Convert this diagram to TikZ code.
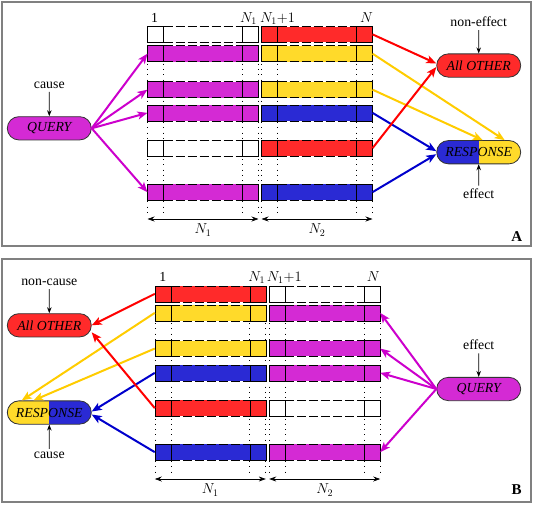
\documentclass[tikz,border=0pt]{standalone}
\usepackage{fontspec}
\setmainfont{Liberation Serif}
\usetikzlibrary{arrows.meta,shapes.misc}
\definecolor{magbar}{RGB}{212,42,212}
\definecolor{redbar}{RGB}{255,42,42}
\definecolor{yelbar}{RGB}{255,218,42}
\definecolor{blubar}{RGB}{42,42,212}
\definecolor{magarr}{RGB}{204,0,204}
\definecolor{redarr}{RGB}{255,0,0}
\definecolor{yelarr}{RGB}{255,204,0}
\definecolor{bluarr}{RGB}{0,0,204}
\newcommand{\cellstrip}[4]{%
  \node[stripbox,fill=#4] (#1) at (#2+55.3,#3+7.85) {};
  \draw[stripline] (#1.north west) rectangle ([xshift=16pt]#1.south west);
  \draw[stripline] ([xshift=-16pt]#1.north east) rectangle (#1.south east);
  \draw[stripline,dash pattern=on 9pt off 3pt] ([xshift=16pt]#1.north west) -- ([xshift=-16pt]#1.north east);
  \draw[stripline,dash pattern=on 9pt off 3pt] ([xshift=16pt]#1.south west) -- ([xshift=-16pt]#1.south east);
}
\begin{document}
\begin{tikzpicture}[x=1pt,y=-1pt,
  font=\fontsize{13.8}{16}\selectfont,
  stripbox/.style={draw=none,inner sep=0pt,minimum width=110.6pt,minimum height=15.7pt},
  stripline/.style={line width=0.6pt,draw=black},
  guide/.style={line width=0.7pt,dash pattern=on 0.8pt off 4.5pt},
  pill/.style={rounded rectangle,draw=black!80,line width=0.8pt,minimum width=86pt,minimum height=23.3pt,inner sep=1pt,font=\fontsize{13.8}{16}\selectfont\itshape},
  flow/.style={line width=2pt,-{Stealth[length=10pt,width=8pt,inset=2.5pt]}},
  pointer/.style={line width=0.8pt,-{Stealth[length=6pt,width=4.5pt]}},
  dimline/.style={line width=0.7pt,{Stealth[length=7pt,width=5pt]}-{Stealth[length=7pt,width=5pt]}},
  panelframe/.style={draw=black!50,line width=1.3pt},
  tag/.style={font=\fontsize{15}{17}\selectfont\bfseries}]
  \useasboundingbox (0,0) rectangle (534,506);
  \draw[panelframe] (2,2) rectangle (531,246);
  \draw[panelframe] (2,259) rectangle (531,502);

  \foreach \gx in {147.7,163.7,242.3,258.3,261.7,277.7,356.3,372.3}
    \draw[guide] (\gx,26.5) -- (\gx,213);
  \foreach \gx in {155,171,249.6,265.6,269.4,285.4,364,380}
    \draw[guide] (\gx,286) -- (\gx,473);

  \foreach \r/\y/\cl/\cr in {1/26.5/white/redbar,2/45.8/magbar/yelbar,3/81.8/magbar/yelbar,
                             4/105/magbar/blubar,5/140.3/white/redbar,6/184.3/magbar/blubar} {
    \cellstrip{aL\r}{147.7}{\y}{\cl}
    \cellstrip{aR\r}{261.7}{\y}{\cr}
  }
  \foreach \r/\y/\cl/\cr in {1/286/redbar/white,2/305/yelbar/magbar,3/340.7/yelbar/magbar,
                             4/365/blubar/magbar,5/400.3/redbar/white,6/444.3/blubar/magbar} {
    \cellstrip{bL\r}{155}{\y}{\cl}
    \cellstrip{bR\r}{269.4}{\y}{\cr}
  }

  \node[anchor=base] (oneA) at ([xshift=7pt,yshift=4pt]aL1.north west) {1};
  \node[anchor=base] (nA) at ([xshift=-10pt,yshift=4pt]aL1.north east) {$N_1$};
  \node[anchor=base] (npA) at ([xshift=16pt,yshift=4pt]aR1.north west) {$N_1{+}1$};
  \node[anchor=base] (endA) at ([xshift=-6pt,yshift=4pt]aR1.north east) {$N$};
  \node[anchor=base] (oneB) at ([xshift=8pt,yshift=4pt]bL1.north west) {1};
  \node[anchor=base] (nB) at ([xshift=-9pt,yshift=4pt]bL1.north east) {$N_1$};
  \node[anchor=base] (npB) at ([xshift=15pt,yshift=4pt]bR1.north west) {$N_1{+}1$};
  \node[anchor=base] (endB) at ([xshift=-7pt,yshift=4pt]bR1.north east) {$N$};

  \coordinate (dimA) at (0,219);
  \coordinate (dimB) at (0,479);
  \draw[dimline] (aL6.west |- dimA) -- (aL6.east |- dimA);
  \draw[dimline] (aR6.west |- dimA) -- (aR6.east |- dimA);
  \draw[dimline] (bL6.west |- dimB) -- (bL6.east |- dimB);
  \draw[dimline] (bR6.west |- dimB) -- (bR6.east |- dimB);
  \node (lenA1) at (203,230) {$N_1$};
  \node (lenA2) at (317,230) {$N_2$};
  \node (lenB1) at (210.3,490) {$N_1$};
  \node (lenB2) at (324.7,490) {$N_2$};

  \node[pill,fill=magbar] (qA) at (49.3,128.3) {QUERY};
  \node[pill,fill=redbar] (oA) at (478.7,65.5) {All OTHER};
  \node[pill,fill=yelbar,path picture={\fill[blubar] (path picture bounding box.south west) rectangle (path picture bounding box.north);}] (rA) at (478.7,152.2) {RESPONSE};
  \node (causeA) at (49.3,85) {cause};
  \node (noneffA) at (478.7,21.7) {non-effect};
  \node (effA) at (478.7,194) {effect};
  \draw[pointer] (causeA) -- (qA);
  \draw[pointer] (noneffA) -- (oA);
  \draw[pointer] (effA) -- (rA);

  \node[pill,fill=redbar] (oB) at (49.3,325.3) {All OTHER};
  \node[pill,fill=blubar,path picture={\fill[yelbar] (path picture bounding box.south west) rectangle (path picture bounding box.north);}] (rB) at (49.3,412.5) {RESPONSE};
  \node[pill,fill=magbar] (qB) at (478.7,389) {QUERY};
  \node (noncauseB) at (49.3,282.3) {non-cause};
  \node (causeB) at (49.3,455.7) {cause};
  \node (effB) at (478.7,345) {effect};
  \draw[pointer] (noncauseB) -- (oB);
  \draw[pointer] (causeB) -- (rB);
  \draw[pointer] (effB) -- (qB);

  \foreach \r in {2,3,4,6}
    \draw[flow,magarr] (qA.east) -- (aL\r.west);
  \draw[flow,redarr] (aR1.east) -- ([yshift=2pt]oA.west);
  \draw[flow,yelarr] (aR2.east) -- ([xshift=26pt]rA.north);
  \draw[flow,yelarr] (aR3.east) -- ([xshift=4pt]rA.north);
  \draw[flow,bluarr] (aR4.east) -- ([yshift=1pt]rA.west);
  \draw[flow,redarr] (aR5.east) -- ([yshift=-1.5pt]oA.west);
  \draw[flow,bluarr] (aR6.east) -- ([yshift=-2pt]rA.west);

  \foreach \r in {2,3,4,6}
    \draw[flow,magarr] (qB.west) -- (bR\r.east);
  \draw[flow,redarr] (bL1.west) -- (oB.east);
  \draw[flow,yelarr] (bL2.west) -- ([xshift=-27.6pt]rB.north);
  \draw[flow,yelarr] (bL3.west) -- ([xshift=-16pt]rB.north);
  \draw[flow,bluarr] (bL4.west) -- ([yshift=1pt]rB.east);
  \draw[flow,redarr] (bL5.west) -- ([yshift=-7pt]oB.east);
  \draw[flow,bluarr] (bL6.west) -- ([yshift=-2pt]rB.east);

  \node[tag] (tagA) at (516.7,236.7) {A};
  \node[tag] (tagB) at (516.7,489.5) {B};
\end{tikzpicture}
\end{document}
